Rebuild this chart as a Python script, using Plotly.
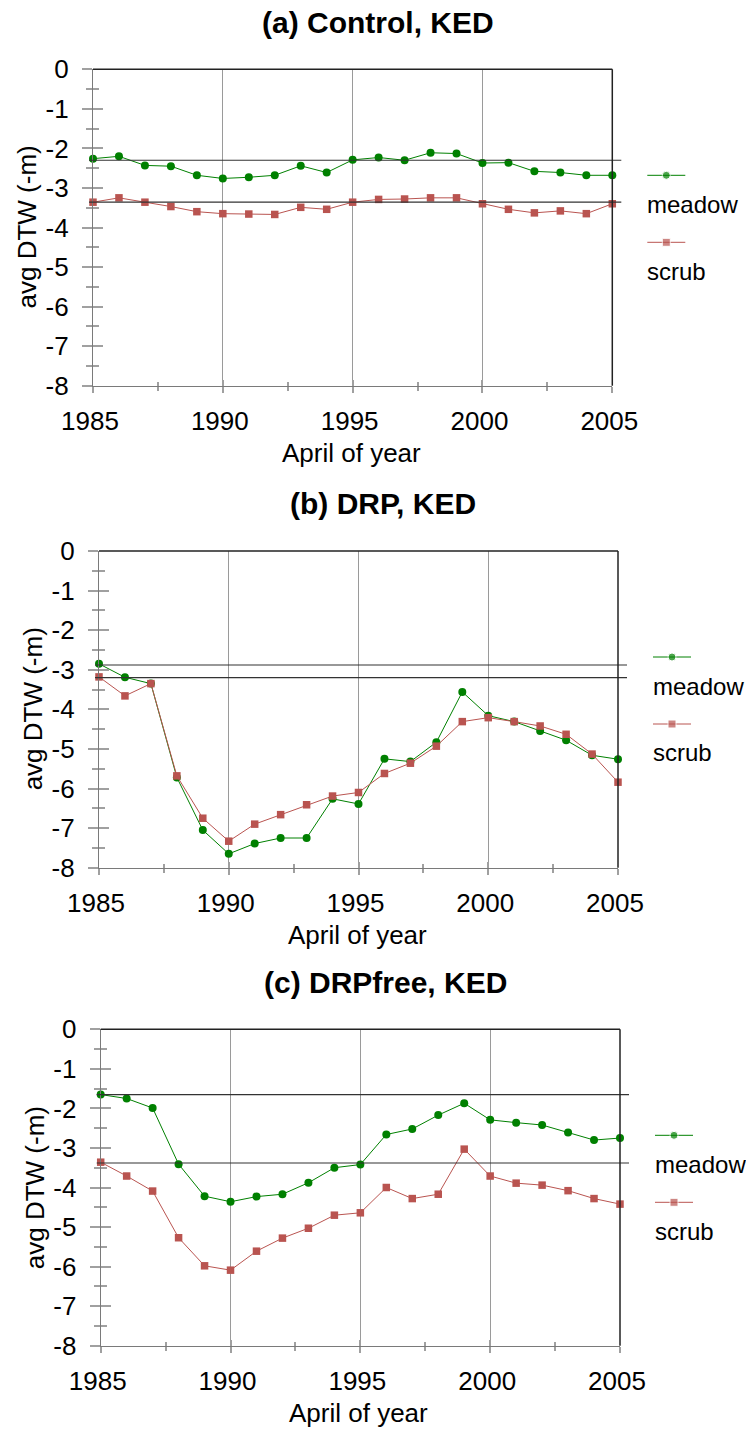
import plotly.graph_objects as go

W, H = 746, 1431
FONT = "Liberation Sans, Arial, sans-serif"

years = list(range(1985, 2006))

a_meadow = [-2.26, -2.20, -2.43, -2.45, -2.68, -2.76, -2.73, -2.68, -2.44, -2.61, -2.29,
            -2.23, -2.30, -2.11, -2.13, -2.37, -2.36, -2.58, -2.61, -2.68, -2.68]
a_scrub = [-3.36, -3.25, -3.36, -3.47, -3.60, -3.65, -3.66, -3.67, -3.49, -3.54, -3.36,
           -3.29, -3.28, -3.25, -3.25, -3.40, -3.54, -3.63, -3.58, -3.65, -3.40]
b_meadow = [-2.85, -3.19, -3.35, -5.72, -7.05, -7.65, -7.39, -7.25, -7.25, -6.26, -6.39,
            -5.25, -5.32, -4.83, -3.56, -4.16, -4.31, -4.55, -4.78, -5.16, -5.26]
b_scrub = [-3.18, -3.66, -3.35, -5.68, -6.75, -7.33, -6.90, -6.66, -6.41, -6.19, -6.10,
           -5.62, -5.36, -4.93, -4.31, -4.21, -4.31, -4.42, -4.63, -5.13, -5.84]
c_meadow = [-1.65, -1.75, -1.99, -3.41, -4.22, -4.36, -4.23, -4.17, -3.88, -3.50, -3.42,
            -2.66, -2.52, -2.17, -1.87, -2.29, -2.36, -2.42, -2.61, -2.80, -2.75]
c_scrub = [-3.36, -3.71, -4.09, -5.27, -5.98, -6.09, -5.61, -5.28, -5.03, -4.70, -4.64,
           -4.00, -4.28, -4.17, -3.03, -3.71, -3.89, -3.94, -4.08, -4.28, -4.42]

ref_meadow = [-2.30, -2.88, -1.65]
ref_scrub = [-3.36, -3.20, -3.38]

titles = ["(a) Control, KED", "(b) DRP, KED", "(c) DRPfree, KED"]
series_names = ["meadow", "scrub"]
x_title = "April of year"
y_title = "avg DTW (-m)"
x_ticks = [1985, 1990, 1995, 2000, 2005]
x_minor = [1987.5, 1992.5, 1997.5, 2002.5]
y_ticks = [0, -1, -2, -3, -4, -5, -6, -7, -8]
y_minor = [-0.5, -1.5, -2.5, -3.5, -4.5, -5.5, -6.5, -7.5]

panels = [(a_meadow, a_scrub), (b_meadow, b_scrub), (c_meadow, c_scrub)]

# layout boxes in pixels: left, right, top, bottom
boxes = [(93, 612.3, 69.3, 385.7), (99, 618, 551, 867.7), (100.7, 620, 1029.3, 1345.7)]

MEADOW = "#008000"
SCRUB = "#b95450"
AXIS = "#7a7a7a"
TICK = "#a0a0a0"
GRID = "#9a9a9a"
DARK = "#222222"
CLEAR = "rgba(0,0,0,0)"


def px(x):
    return x / W


def py(y):
    return 1 - y / H


fig = go.Figure()
annotations = []
shapes = []

for i, ((m, s), (L, R, T, B)) in enumerate(zip(panels, boxes)):
    n = i + 1
    xa = "x" if n == 1 else f"x{n}"
    ya = "y" if n == 1 else f"y{n}"
    xo, yo = f"x{n + 3}", f"y{n + 3}"
    xdom = [px(L), px(R)]
    ydom = [py(B), py(T)]

    fig.add_trace(go.Scatter(x=years, y=m, xaxis=xa, yaxis=ya, mode="lines+markers",
                             name=series_names[0], showlegend=False, cliponaxis=False,
                             line=dict(color=MEADOW, width=1),
                             marker=dict(color=MEADOW, size=8, symbol="circle")))
    fig.add_trace(go.Scatter(x=years, y=s, xaxis=xa, yaxis=ya, mode="lines+markers",
                             name=series_names[1], showlegend=False, cliponaxis=False,
                             line=dict(color=SCRUB, width=1),
                             marker=dict(color=SCRUB, size=7.5, symbol="square")))
    # empty trace to create the overlay subplot carrying inside ticks
    fig.add_trace(go.Scatter(x=[], y=[], xaxis=xo, yaxis=yo, showlegend=False,
                             hoverinfo="skip"))

    kx = "xaxis" if n == 1 else f"xaxis{n}"
    ky = "yaxis" if n == 1 else f"yaxis{n}"
    fig.layout[kx] = dict(
        domain=xdom, anchor=ya, range=[1985, 2005], tickvals=x_ticks, automargin=False,
        ticktext=[str(v) for v in x_ticks], ticks="outside", ticklen=6, tickcolor=TICK,
        tickwidth=1.5, showline=True, linecolor=AXIS, linewidth=1.2, showgrid=True,
        gridcolor=GRID, gridwidth=1, zeroline=False, ticklabelstandoff=6,
        ticklabelshift=-3,
        minor=dict(tickvals=x_minor, ticks="outside", ticklen=4, tickcolor=TICK,
                   tickwidth=1.5, showgrid=False),
        tickfont=dict(family=FONT, size=26, color="#000"))
    fig.layout[ky] = dict(
        domain=ydom, anchor=xa, range=[-8, 0], tickvals=y_ticks, automargin=False,
        ticktext=[str(v) for v in y_ticks], ticks="outside", ticklen=10, tickcolor=TICK,
        tickwidth=1.5, showline=True, linecolor=AXIS, linewidth=1.2, showgrid=False,
        zeroline=False, ticklabelstandoff=8,
        minor=dict(tickvals=y_minor, ticks="outside", ticklen=6, tickcolor=TICK,
                   tickwidth=1.5, showgrid=False),
        tickfont=dict(family=FONT, size=26, color="#000"))
    fig.layout[f"xaxis{n + 3}"] = dict(
        domain=xdom, overlaying=xa, anchor=yo, range=[1985, 2005], tickvals=x_ticks,
        ticks="inside", ticklen=6, tickcolor=TICK, tickwidth=1.5, showline=False,
        showgrid=False, zeroline=False, showticklabels=False, automargin=False,
        minor=dict(tickvals=x_minor, ticks="inside", ticklen=4, tickcolor=TICK,
                   tickwidth=1.5, showgrid=False))
    fig.layout[f"yaxis{n + 3}"] = dict(
        domain=ydom, overlaying=ya, anchor=xo, range=[-8, 0], tickvals=y_ticks,
        ticks="inside", ticklen=10, tickcolor=TICK, tickwidth=1.5, showline=False,
        showgrid=False, zeroline=False, showticklabels=False, automargin=False,
        minor=dict(tickvals=y_minor, ticks="inside", ticklen=6, tickcolor=TICK,
                   tickwidth=1.5, showgrid=False))

    # reference horizontal lines
    for val in (ref_meadow[i], ref_scrub[i]):
        shapes.append(dict(type="line", xref="paper", yref=ya, x0=px(L - 4), x1=px(R + 9),
                           y0=val, y1=val, line=dict(color="#333333", width=1.2)))
    # dark top and right frame
    shapes.append(dict(type="line", xref=f"{xa} domain", yref=f"{ya} domain",
                       x0=0, x1=1, y0=1, y1=1, line=dict(color=DARK, width=1.5)))
    shapes.append(dict(type="line", xref=f"{xa} domain", yref=f"{ya} domain",
                       x0=1, x1=1, y0=0, y1=1, line=dict(color=DARK, width=1.5)))

    cx = (L + R) / 2
    annotations.append(dict(text=f"<b>{titles[i]}</b>", xref="paper", yref="paper",
                            x=px(cx + 25), y=py(T - 47), xanchor="center", yanchor="middle",
                            showarrow=False, font=dict(family=FONT, size=30, color="#000")))
    annotations.append(dict(text=x_title, xref="paper", yref="paper",
                            x=px(cx - 1.5), y=py(B + 67), xanchor="center", yanchor="middle",
                            showarrow=False, font=dict(family=FONT, size=26, color="#000")))
    annotations.append(dict(text=y_title, xref="paper", yref="paper", textangle=-90,
                            x=px(L - 66), y=py((T + B) / 2), xanchor="center",
                            yanchor="middle", showarrow=False,
                            font=dict(family=FONT, size=26, color="#000")))

    # manual legend: symbol line above its label
    for j, (name, col, sym) in enumerate([(series_names[0], MEADOW, "circle"),
                                          (series_names[1], SCRUB, "square")]):
        ly = T + 106 + j * 67
        fig.add_trace(go.Scatter(x=[R + 35, R + 54, R + 73], y=[ly, ly, ly],
                                 xaxis="x7", yaxis="y7", mode="lines+markers",
                                 showlegend=False, hoverinfo="skip", cliponaxis=False,
                                 line=dict(color=col, width=1),
                                 marker=dict(color=col, size=[0, 8, 0], symbol=sym)))
        annotations.append(dict(text=name, xref="paper", yref="paper", x=px(R + 33),
                                y=py(ly + 29), xanchor="left", yanchor="middle",
                                showarrow=False,
                                font=dict(family=FONT, size=24, color="#000")))

fig.layout["xaxis7"] = dict(domain=[0, 1], anchor="y7", range=[0, W], visible=False)
fig.layout["yaxis7"] = dict(domain=[0, 1], anchor="x7", range=[H, 0], visible=False)

fig.update_layout(template="none", width=W, height=H, margin=dict(l=0, r=0, t=0, b=0),
                  paper_bgcolor="white", plot_bgcolor=CLEAR, showlegend=False,
                  annotations=annotations, shapes=shapes,
                  font=dict(family=FONT, color="#000"))

fig.write_html("out.html")
